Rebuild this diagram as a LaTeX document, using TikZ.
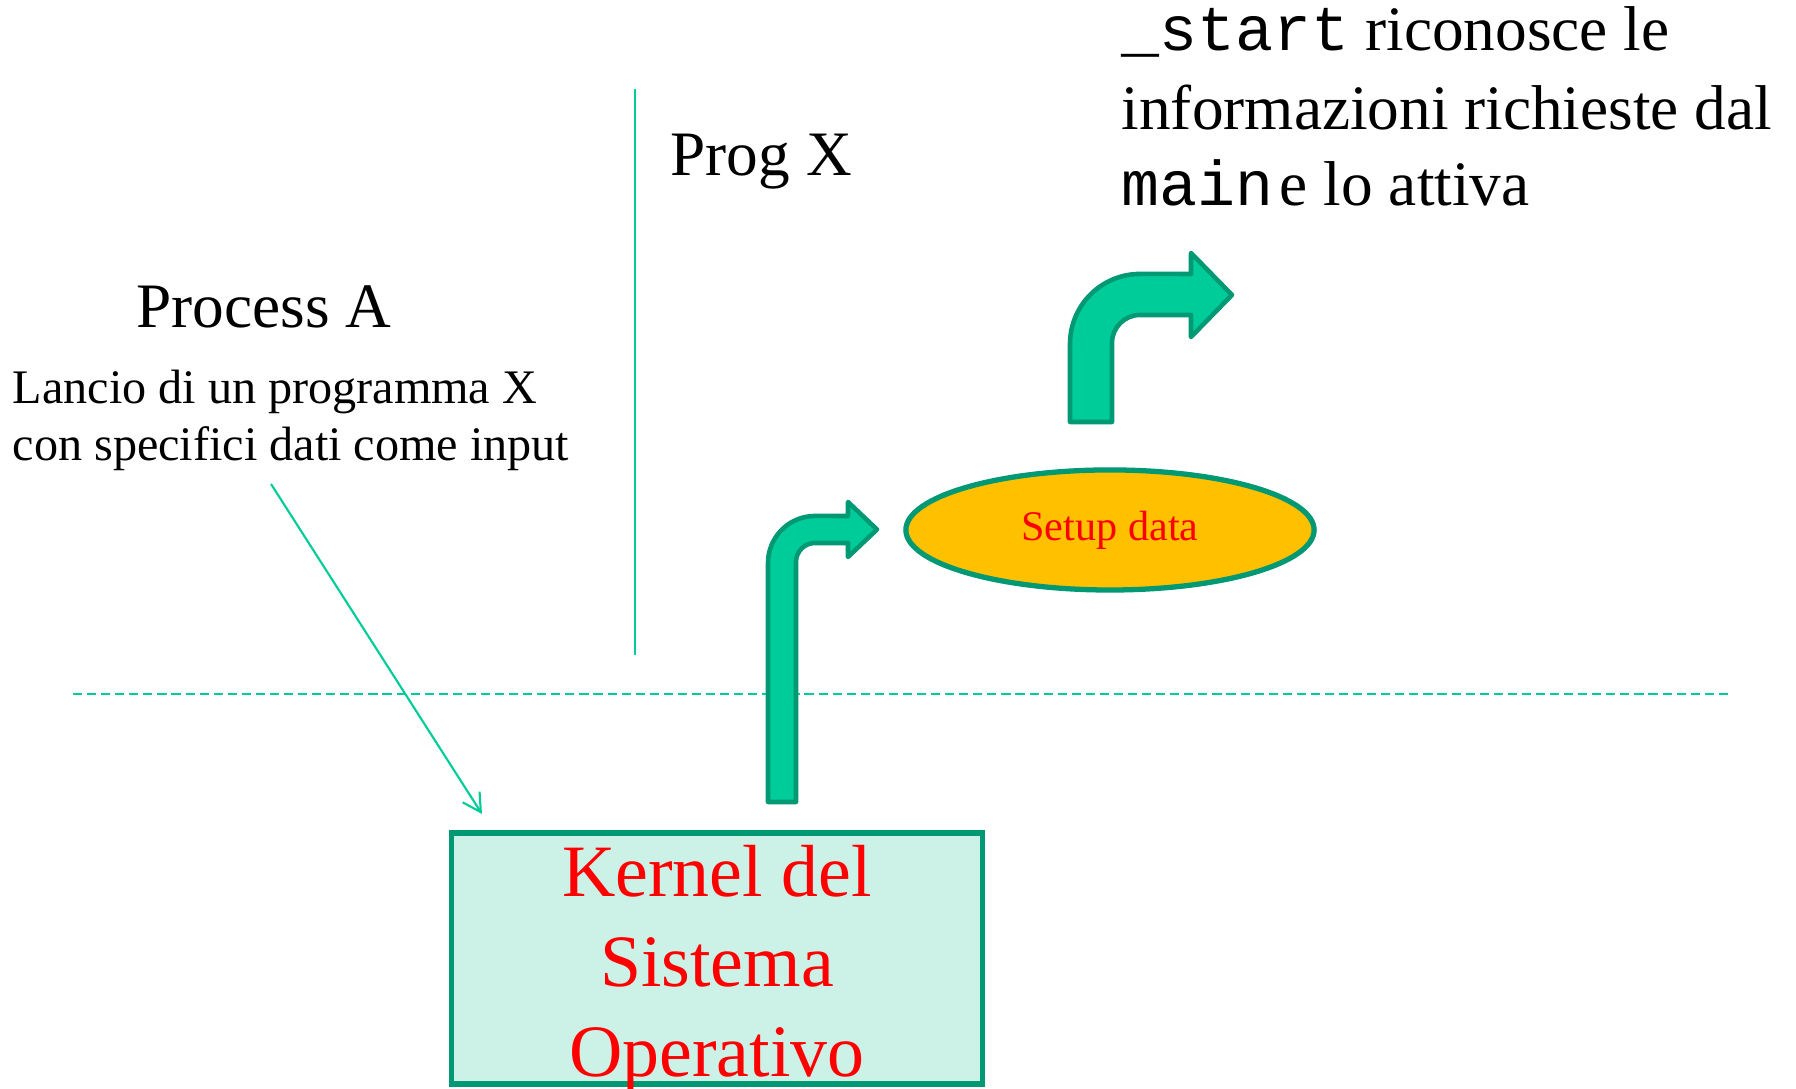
\documentclass[tikz,border=0pt]{standalone}
\usepackage{fontspec}
\setmainfont{Liberation Serif}
\setmonofont{Liberation Mono}
\usetikzlibrary{arrows.meta,shapes}

\definecolor{sea}{RGB}{0,204,153}
\definecolor{deepsea}{RGB}{0,153,115}
\definecolor{mint}{RGB}{204,242,232}
\definecolor{gold}{RGB}{255,192,0}

\begin{document}
\begin{tikzpicture}[x=0.01cm,y=0.01cm,
  bigtext/.style={inner sep=0pt,font=\fontsize{18}{22}\selectfont},
  smalltext/.style={inner sep=0pt,font=\fontsize{13.7}{16}\selectfont},
  bentarrow/.style={fill=sea,draw=deepsea,line width=1.3pt,line join=round},
  guide/.style={draw=sea,line width=0.6pt}]
\useasboundingbox (0,0) rectangle (1796,1089);

% separations
\coordinate (progtop) at (635,1000);
\coordinate (progbottom) at (635,434);
\coordinate (userleft) at (73,395);
\coordinate (userright) at (1730,395);
\draw[guide] (progtop) -- (progbottom);
\draw[guide,dash pattern=on 2.6pt off 1.4pt] (userleft) -- (userright);

% texts
\node[bigtext,anchor=base] (procA) at (264,761) {Process A};
\node[smalltext,anchor=base west] (launchA) at (12,685) {Lancio di un programma X};
\node[smalltext,anchor=base west] (launchB) at (12,628) {con specifici dati come input};
\node[bigtext,anchor=base west] (progX) at (670,913) {Prog X};
\node[bigtext,anchor=base west] (noteA) at (1121,1038) {\texttt{\_start} riconosce le};
\node[bigtext,anchor=base west] (noteB) at (1121,959) {informazioni richieste dal};
\node[bigtext,anchor=base west] (noteC) at (1121,883) {\texttt{main}\hspace{0.1em}e lo attiva};

% kernel
\node[draw=deepsea,fill=mint,line width=1.5pt,minimum width=5.30cm,minimum height=2.51cm] (kernel) at (717,130.5) {};
\node[text=red,align=center,inner sep=0pt,font=\fontsize{21}{25.6}\selectfont] (kerneltext) at (717,120) {Kernel del\\Sistema\\Operativo};

% setup
\node[ellipse,fill=gold,draw=deepsea,line width=1.5pt,minimum width=4.08cm,minimum height=1.2cm,
  text=red,font=\fontsize{12}{14}\selectfont] (setup) at (1110,559) {Setup data};

% bent arrows
\draw[bentarrow] (768,287) -- (768,526) arc[start angle=180,end angle=90,radius=0.47cm]
  -- (848,573) -- (848,587) -- (877,559.5) -- (848,532) -- (848,546) -- (815,546)
  arc[start angle=90,end angle=180,radius=0.19cm] -- (796,287) -- cycle;
\draw[bentarrow] (1070,667) -- (1070,745) arc[start angle=180,end angle=90,radius=0.7cm]
  -- (1191,815) -- (1191,836) -- (1232,794) -- (1191,752) -- (1191,774) -- (1140,774)
  arc[start angle=90,end angle=180,radius=0.28cm] -- (1112,667) -- cycle;

% launch
\coordinate (launchfrom) at (271,605);
\coordinate (launchto) at (482,275);
\draw[guide,-{Straight Barb[length=0.18cm,width=0.2cm]}] (launchfrom) -- (launchto);
\end{tikzpicture}
\end{document}
